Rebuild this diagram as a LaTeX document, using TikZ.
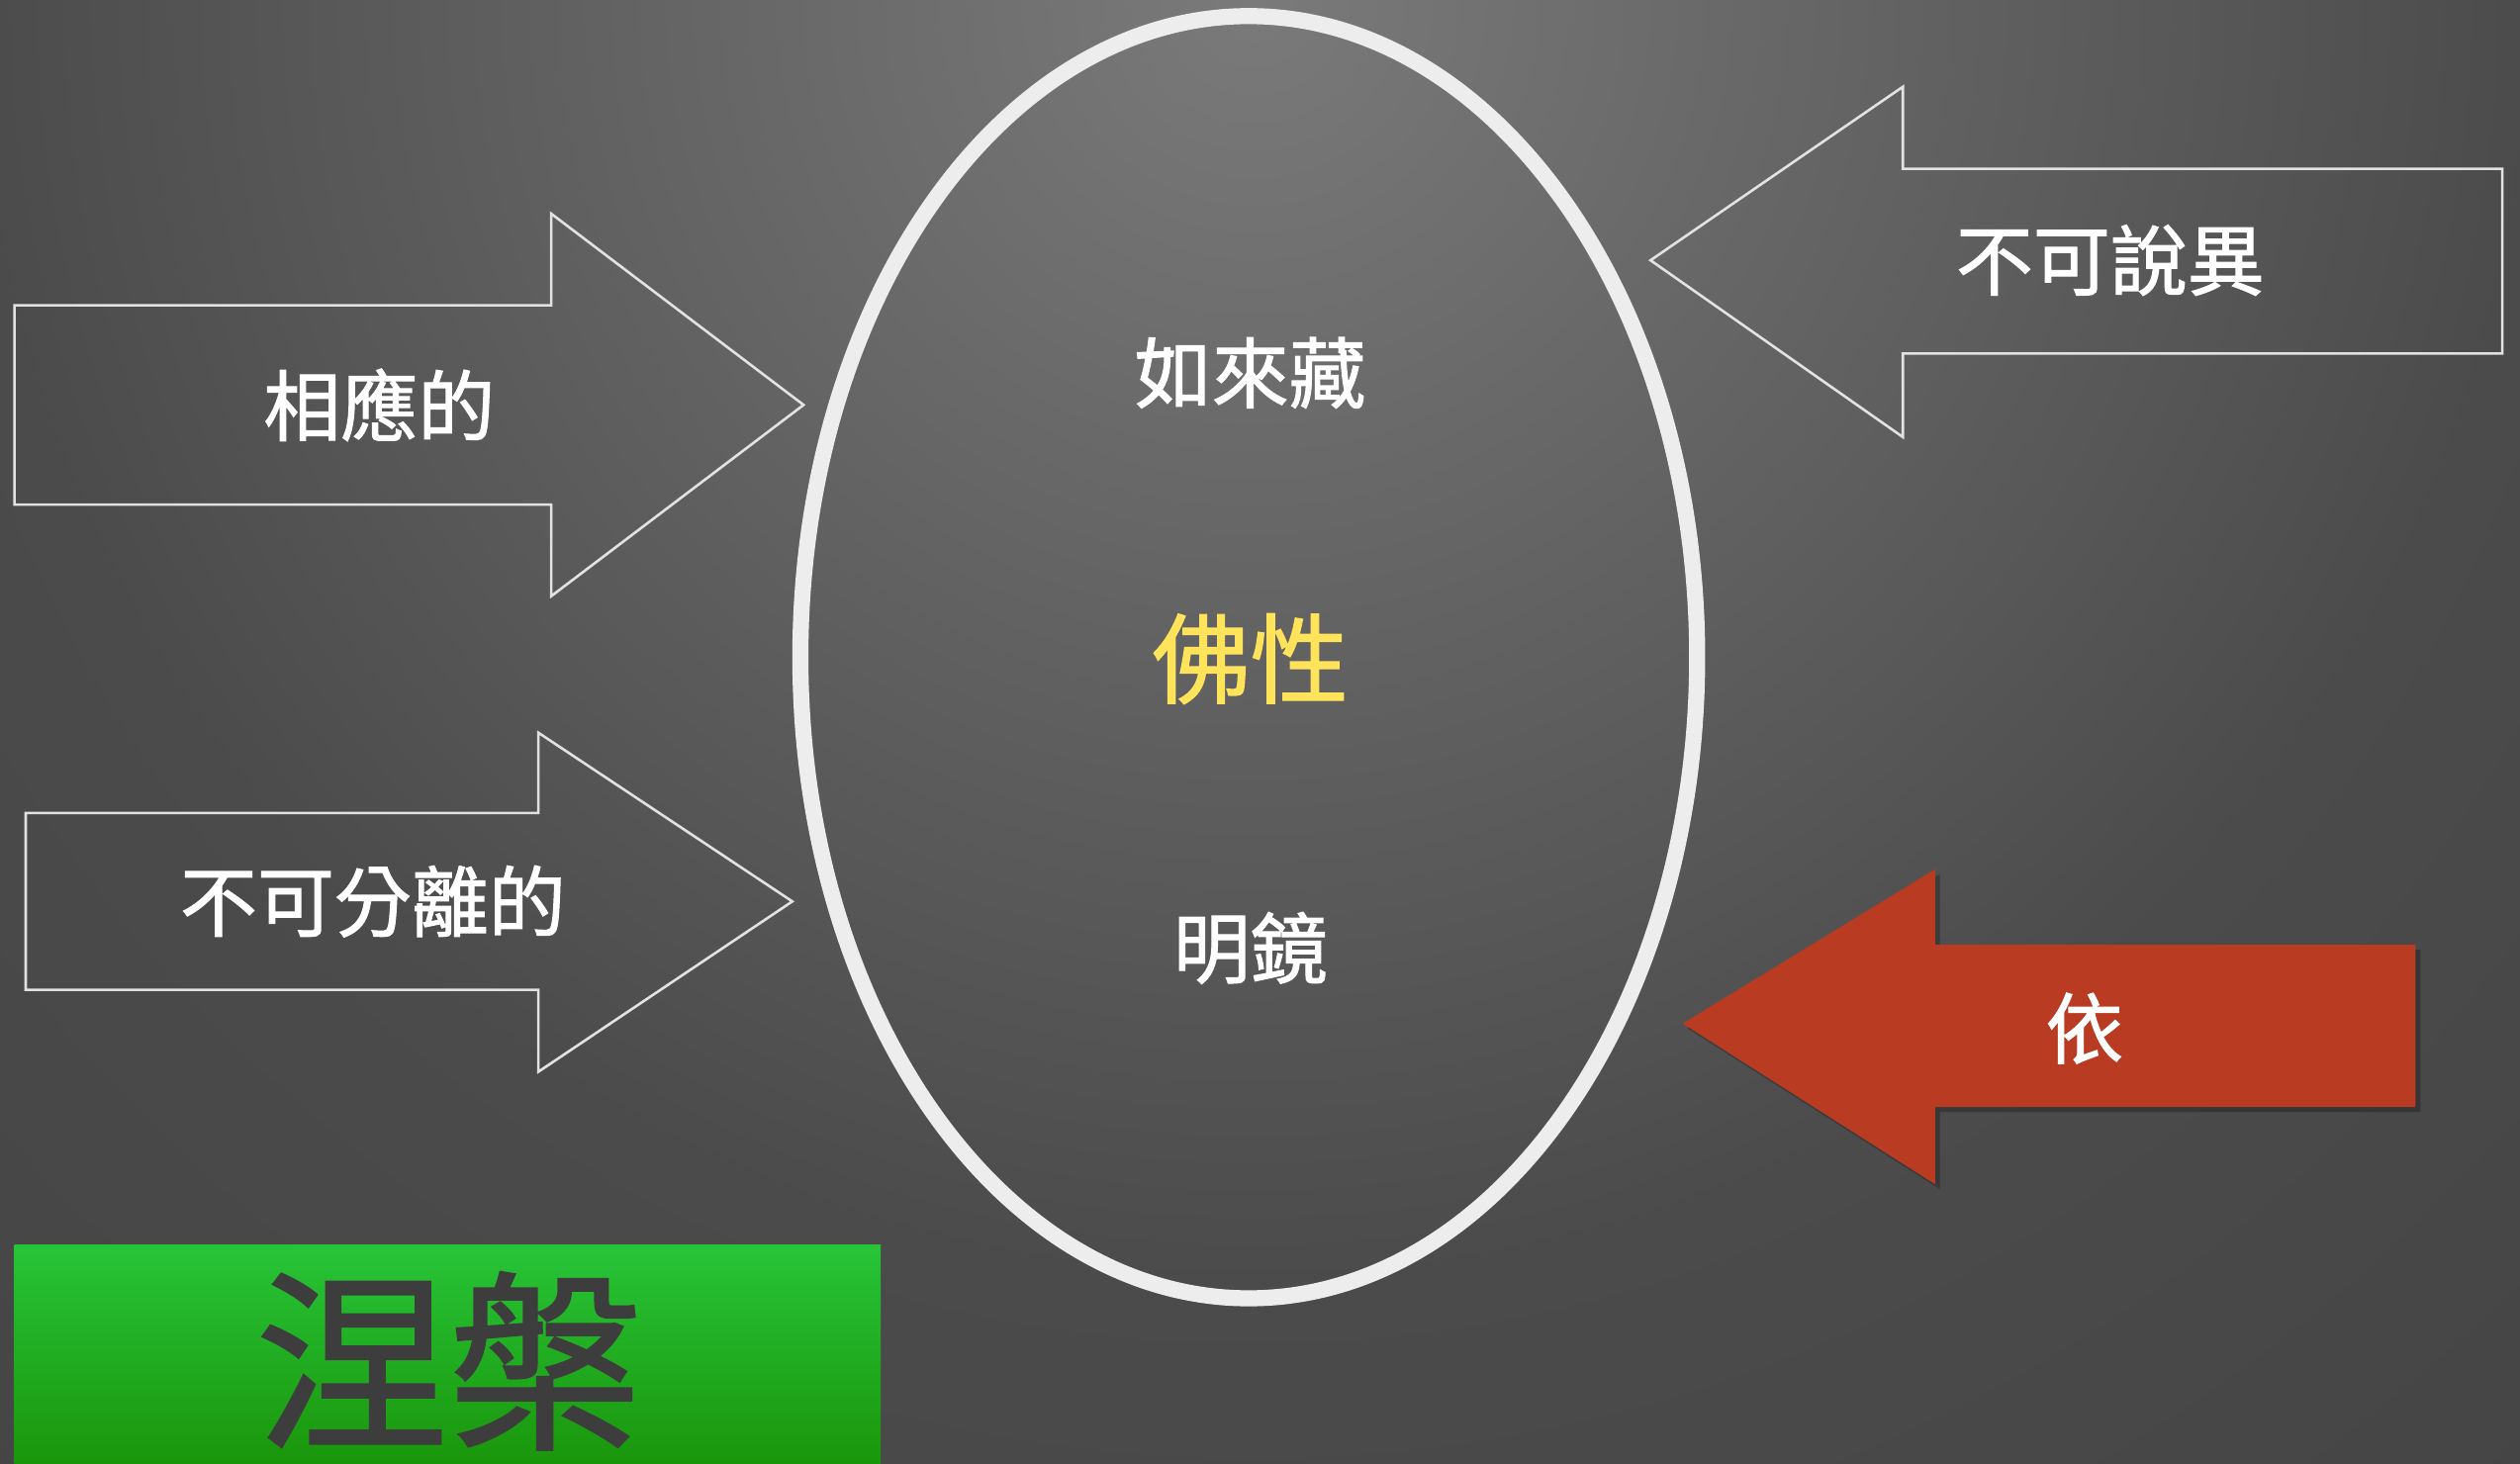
\documentclass[tikz,border=0pt]{standalone}
\usepackage{fontspec}
\newfontfamily\cjk[FakeBold=1.3]{Noto Sans CJK TC}
\definecolor{bgin}{HTML}{7A7A7A}
\definecolor{bgmid}{HTML}{4B4B4B}
\definecolor{bgmid2}{HTML}{3D3D3D}
\definecolor{bgout}{HTML}{2E2E2E}
\definecolor{ringc}{HTML}{EDEDED}
\definecolor{outlinec}{HTML}{E2E2E2}
\definecolor{redarrow}{HTML}{B93B22}
\definecolor{greentop}{HTML}{28C438}
\definecolor{greenbot}{HTML}{1A960B}
\definecolor{yellowtxt}{HTML}{FFE35A}
\definecolor{darktxt}{HTML}{3D3D3D}
\pgfdeclareradialshading{bgshade}{\pgfpoint{0bp}{0bp}}{color(0bp)=(bgin); color(16bp)=(bgmid); color(36bp)=(bgmid2); color(50bp)=(bgout)}
\tikzset{
  outlinearrow/.style={draw=outlinec, line width=1.6pt, line join=miter},
  whitelabel/.style={text=white, font=\cjk\fontsize{48}{54}\selectfont, inner sep=0pt},
  ring/.style={draw=ringc, line width=10pt}
}
\begin{document}
\begin{tikzpicture}[x=1pt,y=-1pt]
\useasboundingbox (0,0) rectangle (1568,911);
\begin{scope}
  \clip (0,0) rectangle (1568,911);
  \shade[shading=bgshade] (780,0) circle (1250);
\end{scope}
% ring
\draw[ring] (777,409) ellipse [x radius=279, y radius=399];
% arrow 1
\draw[outlinearrow] (9,190) -- (343,190) -- (343,133) -- (500,252) -- (343,371) -- (343,314) -- (9,314) -- cycle;
% arrow 2
\draw[outlinearrow] (16,506) -- (335,506) -- (335,456) -- (493,561) -- (335,667) -- (335,616) -- (16,616) -- cycle;
% arrow 3
\draw[outlinearrow] (1557,105) -- (1184,105) -- (1184,54) -- (1027,162) -- (1184,272) -- (1184,220) -- (1557,220) -- cycle;
% red arrow
\fill[black, opacity=0.25] (1506,591) -- (1207,591) -- (1207,544) -- (1050,640) -- (1207,740) -- (1207,692) -- (1506,692) -- cycle;
\fill[redarrow] (1503,588) -- (1204,588) -- (1204,541) -- (1047,637) -- (1204,737) -- (1204,689) -- (1503,689) -- cycle;
% green box
\shade[top color=greentop, bottom color=greenbot] (9,775) rectangle (548,911);
% texts
\node[whitelabel] (xiangying) at (236,252) {相應的};
\node[whitelabel] (bukefenli) at (232,561) {不可分離的};
\node[whitelabel] (bukeshuoyi) at (1313,162) {不可說異};
\node[whitelabel] (yi) at (1297,640) {依};
\node[whitelabel] (rulaizang) at (778,232) {如來藏};
\node[whitelabel] (mingjing) at (778,590) {明鏡};
\node[text=yellowtxt, font=\cjk\fontsize{61}{67}\selectfont, inner sep=0pt] (foxing) at (778,410) {佛性};
\node[text=darktxt, font=\cjk\fontsize{120}{130}\selectfont, inner sep=0pt] (niepan) at (279,847) {涅槃};
\end{tikzpicture}
\end{document}
